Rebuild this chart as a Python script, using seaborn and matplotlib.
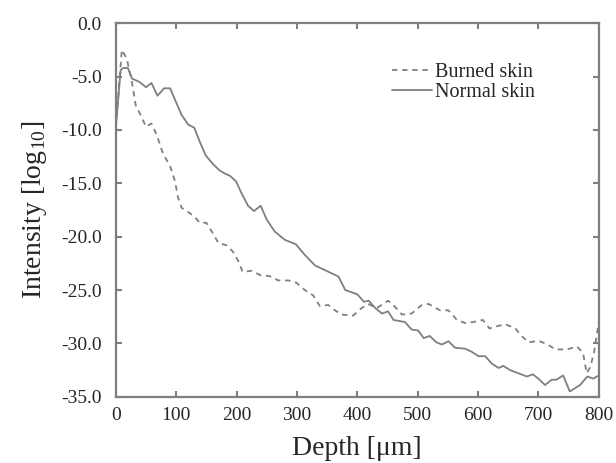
import matplotlib
matplotlib.use("Agg")
import matplotlib.pyplot as plt
import seaborn as sns

# depth [um] and log10 intensity
burned_depth = [0, 10, 18, 26, 33, 41, 50, 59, 68, 78, 90, 98, 103, 109, 120, 130,
                139, 150, 161, 170, 183, 194, 203, 210, 225, 239, 255, 269, 286, 299,
                313, 327, 338, 352, 363, 374, 393, 407, 418, 432, 451, 463, 474, 490,
                507, 518, 537, 551, 565, 579, 592, 608, 619, 631, 645, 662, 672, 684,
                700, 714, 728, 747, 764, 774, 780, 786, 792, 797, 800]
burned_val = [-9.8, -2.5, -3.3, -5.3, -7.7, -8.6, -9.7, -9.4, -10.5, -12.2, -13.4, -14.8,
              -16.3, -17.3, -17.7, -18.1, -18.7, -18.7, -19.7, -20.6, -20.8, -21.4, -22.3,
              -23.3, -23.2, -23.6, -23.7, -24.1, -24.1, -24.3, -25.0, -25.5, -26.5, -26.4,
              -26.9, -27.3, -27.4, -26.7, -26.3, -26.7, -26.0, -26.6, -27.3, -27.2, -26.4,
              -26.3, -26.9, -26.9, -27.8, -28.1, -28.0, -27.8, -28.6, -28.4, -28.2, -28.6,
              -29.3, -29.9, -29.75, -30.06, -30.56, -30.56, -30.3, -30.9, -32.8, -32.2,
              -30.9, -29.1, -28.0]

normal_depth = [0, 8, 12, 20, 27, 39, 50, 59, 69, 80, 90, 99, 109, 120, 130, 139, 149,
                161, 172, 181, 189, 199, 208, 219, 229, 240, 250, 263, 280, 298, 313, 330,
                349, 369, 380, 400, 411, 419, 430, 441, 451, 460, 479, 490, 501, 510, 520,
                531, 540, 551, 562, 579, 590, 601, 612, 623, 634, 642, 653, 667, 681, 691,
                700, 711, 722, 730, 741, 752, 769, 781, 791, 800]
normal_val = [-9.8, -4.4, -4.2, -4.2, -5.2, -5.5, -6.0, -5.6, -6.8, -6.1, -6.1, -7.3, -8.6,
              -9.5, -9.8, -11.1, -12.4, -13.2, -13.8, -14.1, -14.3, -14.8, -15.9, -17.1,
              -17.6, -17.1, -18.4, -19.5, -20.3, -20.7, -21.7, -22.7, -23.2, -23.75, -25.0,
              -25.4, -26.1, -26.0, -26.7, -27.2, -27.0, -27.8, -28.0, -28.7, -28.8, -29.5,
              -29.3, -29.9, -30.1, -29.8, -30.4, -30.5, -30.8, -31.2, -31.2, -31.9, -32.3,
              -32.1, -32.5, -32.8, -33.1, -32.9, -33.3, -33.9, -33.4, -33.4, -33.0, -34.5,
              -33.9, -33.1, -33.3, -33.0]

x_ticks = [0, 100, 200, 300, 400, 500, 600, 700, 800]
y_ticks = [0, -5, -10, -15, -20, -25, -30, -35]

sns.set_style("ticks")
plt.rcParams["font.family"] = ["Liberation Serif", "DejaVu Serif"]
plt.rcParams["mathtext.fontset"] = "custom"
plt.rcParams["mathtext.rm"] = "Liberation Serif"
plt.rcParams["axes.unicode_minus"] = False

grey = "#7f7f7f"
fig = plt.figure(figsize=(6.16, 4.63), dpi=100)
ax = fig.add_axes([0.188, 0.143, 0.784, 0.807])

sns.lineplot(x=burned_depth, y=burned_val, ax=ax, color=grey, lw=1.3,
             linestyle=(0, (3, 2.6)), label="Burned skin")
sns.lineplot(x=normal_depth, y=normal_val, ax=ax, color=grey, lw=1.3,
             label="Normal skin")

ax.set_xlim(0, 800)
ax.set_ylim(-35, 0)
ax.set_xticks(x_ticks)
ax.set_yticks(y_ticks)
ax.set_yticklabels([f"{v:.1f}" for v in y_ticks])
ax.tick_params(direction="in", length=4.5, width=1.5, color=grey, labelsize=14,
               top=True, right=True)
ax.tick_params(axis="y", pad=10)
ax.tick_params(axis="x", pad=7)
for s in ax.spines.values():
    s.set_color(grey)
    s.set_linewidth(1.6)

ax.set_xlabel("Depth [\u03bcm]", fontsize=20, labelpad=9)
ax.set_ylabel(r"Intensity [log$_{\mathregular{10}}$]", fontsize=20, labelpad=9)

ax.legend(loc="upper right", bbox_to_anchor=(0.868, 0.865), bbox_transform=fig.transFigure,
          frameon=False, fontsize=14.5, handlelength=2.0, handletextpad=0.15,
          labelspacing=0.05, borderpad=0, borderaxespad=0)

fig.savefig("out.png", dpi=100)
